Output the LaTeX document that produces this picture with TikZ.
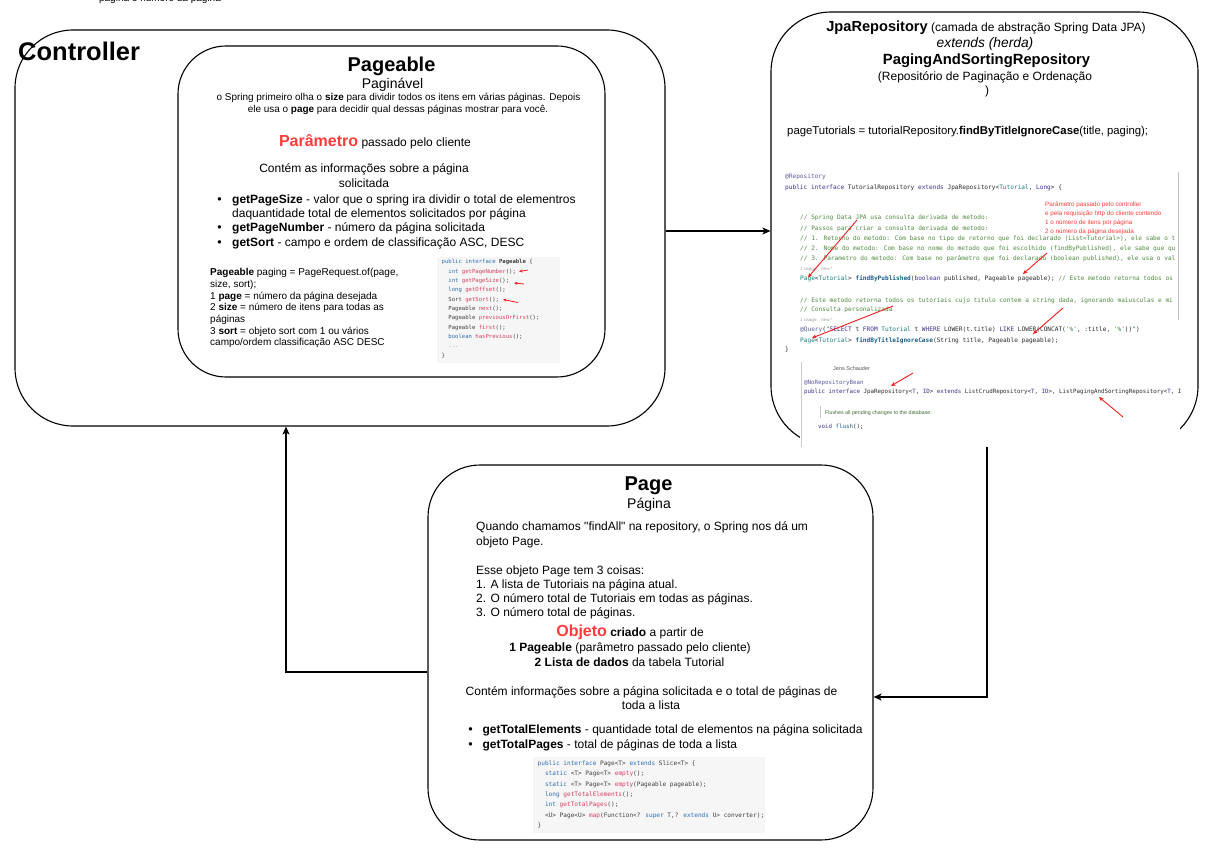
\documentclass[tikz,border=0pt]{standalone}
\usepackage{fontspec}
\setmainfont{Liberation Sans}[Ligatures=TeXOff]
\newfontfamily\codefont{DejaVu Sans Mono}[Ligatures=TeXOff]
\usetikzlibrary{arrows.meta}

\definecolor{alertred}{HTML}{FF3B3B}
\definecolor{snipbg}{HTML}{F6F6F7}
\definecolor{dockw}{HTML}{2F6DB5}
\definecolor{docmeth}{HTML}{D8405E}
\definecolor{doctxt}{HTML}{404040}
\definecolor{idekw}{HTML}{3F2E8F}
\definecolor{idecom}{HTML}{4E8A3E}
\definecolor{ideann}{HTML}{5B5BA6}
\definecolor{idetyp}{HTML}{17807F}
\definecolor{idemeth}{HTML}{1B5F8A}
\definecolor{idegray}{HTML}{A0A0A0}
\definecolor{idestr}{HTML}{2E7D32}
\definecolor{idetxt}{HTML}{2B2B2B}
\definecolor{markred}{HTML}{F01E1E}

\newcommand\setfs[2]{\fontsize{#1}{#2}\selectfont}
\newcommand\dkw[1]{\textcolor{dockw}{#1}}
\newcommand\dmt[1]{\textcolor{docmeth}{#1}}
\newcommand\ikw[1]{\textcolor{idekw}{#1}}
\newcommand\icm[1]{\textcolor{idecom}{#1}}
\newcommand\ity[1]{\textcolor{idetyp}{#1}}
\newcommand\iat[1]{\textcolor{ideann}{#1}}
\newcommand\imt[1]{\textcolor{idemeth}{\bfseries #1}}
\newcommand\ist[1]{\textcolor{idestr}{#1}}

\begin{document}
\begin{tikzpicture}[x=1pt,y=-1pt,
  box/.style={draw=black, line width=1.1pt, fill=white, rounded corners=#1, inner sep=0pt},
  conn/.style={draw=black, line width=1.1pt, -{Stealth[length=8pt,width=7pt,inset=2pt]}},
  redmark/.style={draw=markred, line width=0.9pt, -{Stealth[length=4.5pt,width=4pt]}},
  txt/.style={inner sep=0pt, anchor=base, font={\setfs{12}{14}}},
  ltxt/.style={inner sep=0pt, anchor=base west, font={\setfs{12}{14}}},
  bullet/.style={inner sep=0pt, anchor=base, font={\setfs{12.5}{14}}},
  pgcode/.style={inner sep=0pt, anchor=base west, text=doctxt, font={\codefont\setfs{5.6}{6.5}}},
  pcode/.style={inner sep=0pt, anchor=base west, text=doctxt, font={\codefont\setfs{6.1}{7}}},
  icode/.style={inner sep=0pt, anchor=base west, text=idetxt, font={\codefont\setfs{6.13}{7}}},
  icode2/.style={inner sep=0pt, anchor=base west, text=idetxt, font={\codefont\setfs{5.8}{7}}},
]
\useasboundingbox (0,0) rectangle (1210,850);
\fill[white] (0,0) rectangle (1210,850);

% ---------- containers ----------
\node[box=58, minimum width=650pt, minimum height=396pt] (ctrl) at (340,228) {};
\node[box=48, minimum width=427pt, minimum height=331pt] (pgbl) at (391.5,211.5) {};
\node[box=60, minimum width=427pt, minimum height=434pt] (jpa) at (984.5,229) {};
\node[box=52, minimum width=445pt, minimum height=375pt] (page) at (650.5,652.5) {};

% ---------- repository source excerpts (white panels) ----------
\fill[white] (780,170) rectangle (1178,356);
\draw[black!25, line width=0.6pt] (1178,172) -- (1178,320);
\fill[white] (800,358) rectangle (1180,447.5);
\draw[black!20, line width=0.8pt] (801,362) -- (801,447);

% ---------- connectors ----------
\coordinate (c1) at ([yshift=-3pt]ctrl.east);
\draw[conn] (c1) -- (c1 -| jpa.west);
\coordinate (c2) at ([yshift=-44.5pt]page.east);
\draw[conn] ([xshift=2.5pt]jpa.south) |- (c2);
\coordinate (c3) at ([yshift=-19.5pt]page.west);
\coordinate (c4) at ([xshift=-54pt]ctrl.south);
\draw[conn] (c3) -| (c4);

% ---------- headings ----------
\node[txt, font={\setfs{10}{12}}] (topnote) at (160,1.5) {página e número da página};
\node[ltxt, font={\setfs{25.5}{28}\bfseries}] (ctrlT) at (18,60.5) {Controller};

% ---------- Pageable ----------
\node[txt, font={\setfs{20}{22}\bfseries}] (pgblT) at (391.5,71.5) {Pageable};
\node[txt, font={\setfs{14}{16}}] (pgblS) at (392.5,89) {Paginável};
\node[txt, font={\setfs{9.95}{11}}] (pgblD1) at (398.5,101) {o Spring primeiro olha o \textbf{size} para dividir todos os itens em várias páginas. Depois};
\node[txt, font={\setfs{9.95}{11}}] (pgblD2) at (398,112.5) {ele usa o \textbf{page} para decidir qual dessas páginas mostrar para você.};
\node[txt] (pgblP) at (375,146.7) {\textcolor{alertred}{\setfs{16}{18}\bfseries Parâmetro} passado pelo cliente};
\node[txt] (pgblC1) at (364,173) {Contém as informações sobre a página};
\node[txt] (pgblC2) at (364,188) {solicitada};
\foreach \yy [count=\i] in {204,231.5,247}
  \node[bullet, name=pgblB\i] at (219.5,\yy) {\textbullet};
\node[ltxt] (pgblL1) at (232,204) {\textbf{getPageSize} - valor que o spring ira dividir o total de elementros};
\node[ltxt] (pgblL1b) at (232,218) {daquantidade total de elementos solicitados por página};
\node[ltxt] (pgblL2) at (232,231.5) {\textbf{getPageNumber} - número da página solicitada};
\node[ltxt] (pgblL3) at (232,247) {\textbf{getSort} - campo e ordem de classificação ASC, DESC};

\foreach \cl [count=\i] in {
  {\textbf{Pageable} paging = PageRequest.of(page,},
  {size, sort);},
  {1 \textbf{page} = número da página desejada},
  {2 \textbf{size} = número de itens para todas as},
  {páginas},
  {3 \textbf{sort} = objeto sort com 1 ou vários},
  {campo/ordem classificação ASC DESC}}
  \node[ltxt, font={\setfs{10}{12}}, name=pgblR\i] at (210,{275.7+11.67*(\i-1)}) {\cl};

% Pageable interface snippet
\fill[snipbg] (437,257) rectangle (560,363);
\foreach \cl [count=\i] in {
  {\dkw{public interface} \textbf{Pageable} \{},
  {\phantom{xx}\dkw{int} \dmt{getPageNumber}();},
  {\phantom{xx}\dkw{int} \dmt{getPageSize}();},
  {\phantom{xx}\dkw{long} \dmt{getOffset}();},
  {\phantom{xx}Sort \dmt{getSort}();},
  {\phantom{xx}Pageable \dmt{next}();},
  {\phantom{xx}Pageable \dmt{previousOrFirst}();},
  {\phantom{xx}Pageable \dmt{first}();},
  {\phantom{xx}\dkw{boolean} \dmt{hasPrevious}();},
  {\phantom{xx}\textcolor{black!40}{...}},
  {\}}}
  \node[pgcode, name=pgblK\i] at (441.5,{264+9.3*(\i-1)}) {\cl};
\coordinate (pa1) at (528,270); \coordinate (pb1) at (519,271.5);
\coordinate (pa2) at (524,284); \coordinate (pb2) at (514,283);
\coordinate (pa3) at (518,302.5); \coordinate (pb3) at (503,299.5);
\foreach \k in {1,2,3} \draw[redmark, line width=0.8pt, -{Stealth[length=3.5pt,width=3pt]}] (pa\k) -- (pb\k);

% ---------- JpaRepository ----------
\node[txt] (jpaT1) at (986,31.7) {{\setfs{14.6}{17}\bfseries JpaRepository} (camada de abstração Spring Data JPA)};
\node[txt, font={\setfs{13.8}{16}\itshape}] (jpaT2) at (985,47.5) {extends (herda)};
\node[txt, font={\setfs{14.8}{17}\bfseries}] (jpaT3) at (986.5,65) {PagingAndSortingRepository};
\node[txt] (jpaT4) at (985,80.5) {(Repositório de Paginação e Ordenação};
\node[txt] (jpaT5) at (987,94.5) {)};
\node[ltxt, font={\setfs{11.35}{14}}] (jpaCall) at (787,135) {pageTutorials = tutorialRepository.\textbf{findByTitleIgnoreCase}(title, paging);};

\begin{scope}
  \clip (780,170) rectangle (1176,356);
  \node[icode, name=ir1] at (785,179) {\iat{@Repository}};
  \node[icode, name=ir2] at (785,190) {\ikw{public interface} TutorialRepository \ikw{extends} JpaRepository<\ity{Tutorial}, \ikw{Long}> \{};
  \foreach \cl [count=\i] in {
    {// Spring Data JPA usa consulta derivada de metodo:},
    {// Passos para criar a consulta derivada de metodo:},
    {// 1. Retorno do metodo: Com base no tipo de retorno que foi declarado (List<Tutorial>), ele sabe o t},
    {// 2. Nome do metodo: Com base no nome do metodo que foi escolhido (findByPublished), ele sabe que qu},
    {// 3. Parametro do metodo: Com base no parâmetro que foi declarado (boolean published), ele usa o val}}
    \node[icode, text=idecom, name=ic\i] at (800,{220+10.2*(\i-1)}) {\cl};
  \node[ltxt, font={\setfs{4.6}{5}}, text=idegray, name=iu1] at (800,270.5) {1 usage\quad new *};
  \node[icode, name=ir3] at (800,280.5) {\ity{Page}<\ity{Tutorial}> \imt{findByPublished}(\ikw{boolean} published, Pageable pageable); \icm{// Este metodo retorna todos os}};
  \node[icode, text=idecom, name=ic6] at (800,302) {// Este metodo retorna todos os tutoriais cujo titulo contem a string dada, ignorando maiusculas e mi};
  \node[icode, text=idecom, name=ic7] at (800,312) {// Consulta personalizada};
  \node[ltxt, font={\setfs{4.6}{5}}, text=idegray, name=iu2] at (800,321.5) {1 usage\quad new *};
  \node[icode, name=ir4] at (800,331.5) {\iat{@Query}(\ist{"}\ikw{SELECT} t \ikw{FROM} \ity{Tutorial} t \ikw{WHERE} LOWER(t.title) \ikw{LIKE} LOWER(CONCAT(\ist{'\%'}, :title, \ist{'\%'}))\ist{"})};
  \node[icode, name=ir5] at (800,342) {\ity{Page}<\ity{Tutorial}> \imt{findByTitleIgnoreCase}(String title, Pageable pageable);};
  \node[icode, name=ir6] at (785,352) {\}};
\end{scope}

\foreach \cl [count=\i] in {
  {Parâmetro passado pelo controller},
  {e pela requisição http do cliente contendo},
  {1 o número de itens por página},
  {2 o número da página desejada}}
  \node[ltxt, font={\setfs{6.3}{7}}, text=alertred, name=inote\i] at (1045,{206.5+8.85*(\i-1)}) {\cl};

\begin{scope}
  \clip (802,358) rectangle (1180,447);
  \node[ltxt, font={\setfs{5.5}{6}}, text=black!65, name=js1] at (833,370.5) {Jens Schauder};
  \node[icode2, name=js2] at (804,384.5) {\iat{@NoRepositoryBean}};
  \node[icode2, name=js3] at (804,393.5) {\ikw{public interface} JpaRepository<\ikw{T}, \ikw{ID}> \ikw{extends} ListCrudRepository<\ikw{T}, \ikw{ID}>, ListPagingAndSortingRepository<\ikw{T}, I};
  \draw[black!20, line width=0.8pt] (820.5,406) -- (820.5,418);
  \node[ltxt, font={\setfs{5.3}{6}}, text=idecom!80!black, name=js4] at (825,414) {Flushes all pending changes to the database.};
  \node[icode2, name=js5] at (818,428) {\ikw{void} \textcolor{idemeth}{flush}();};
\end{scope}

% highlight arrows over the excerpts
\coordinate (ja1) at (857,220);  \coordinate (jb1) at (808,277.5);
\coordinate (ja2) at (1047,253); \coordinate (jb2) at (1023,274);
\coordinate (ja3) at (893,306);  \coordinate (jb3) at (812,338);
\coordinate (ja4) at (1063,308); \coordinate (jb4) at (1033,334);
\coordinate (ja5) at (913,373);  \coordinate (jb5) at (891,386);
\coordinate (ja6) at (1123,417); \coordinate (jb6) at (1099,397);
\foreach \k in {1,...,6} \draw[redmark] (ja\k) -- (jb\k);

% ---------- Page ----------
\node[txt, font={\setfs{20}{22}\bfseries}] (pageT) at (648.5,490) {Page};
\node[txt, font={\setfs{14}{16}}] (pageS) at (649,508.3) {Página};
\node[ltxt] (pageQ1) at (476,530.7) {Quando chamamos "findAll" na repository, o Spring nos dá um};
\node[ltxt] (pageQ2) at (476,545) {objeto Page.};
\foreach \cl [count=\i] in {
  {Esse objeto Page tem 3 coisas:},
  {1. A lista de Tutoriais na página atual.},
  {2. O número total de Tutoriais em todas as páginas.},
  {3. O número total de páginas.}}
  \node[ltxt, name=pageE\i] at (476,{574+14.3*(\i-1)}) {\cl};
\node[txt] (pageO) at (630,636.7) {\textcolor{alertred}{\setfs{16}{18}\bfseries Objeto} \textbf{criado} a partir de};
\node[txt] (pageO1) at (630,651.7) {\textbf{1 Pageable} (parâmetro passado pelo cliente)};
\node[txt] (pageO2) at (629.5,666) {\textbf{2 Lista de dados} da tabela Tutorial};
\node[txt] (pageC1) at (651.5,695) {Contém informações sobre a página solicitada e o total de páginas de};
\node[txt] (pageC2) at (651,709.3) {toda a lista};
\node[bullet] (pageB1) at (470.5,733.3) {\textbullet};
\node[bullet] (pageB2) at (470.5,748.3) {\textbullet};
\node[ltxt] (pageL1) at (482.3,733.3) {\textbf{getTotalElements} - quantidade total de elementos na página solicitada};
\node[ltxt] (pageL2) at (482.3,748.3) {\textbf{getTotalPages} - total de páginas de toda a lista};

% Page interface snippet
\fill[snipbg] (533,757) rectangle (765,833);
\foreach \cl [count=\i] in {
  {\dkw{public interface} Page<T> \dkw{extends} Slice<T> \{},
  {\phantom{xx}\dkw{static} <T> Page<T> \dmt{empty}();},
  {\phantom{xx}\dkw{static} <T> Page<T> \dmt{empty}(Pageable pageable);},
  {\phantom{xx}\dkw{long} \dmt{getTotalElements}();},
  {\phantom{xx}\dkw{int} \dmt{getTotalPages}();},
  {\phantom{xx}<U> Page<U> \dmt{map}(Function<? \dkw{super} T,? \dkw{extends} U> converter);},
  {\}}}
  \node[pcode, name=pageK\i] at (537.5,{765.5+10.3*(\i-1)}) {\cl};

\end{tikzpicture}
\end{document}
